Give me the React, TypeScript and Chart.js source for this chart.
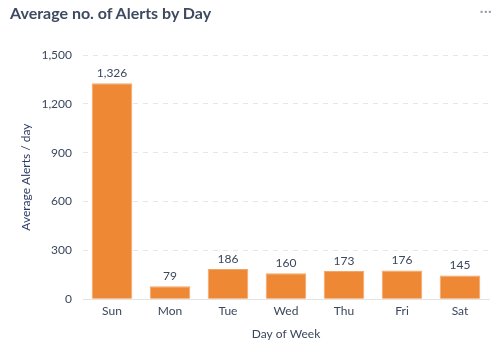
import React, { useEffect, useRef } from "react";
import { Chart, registerables } from "chart.js";

Chart.register(...registerables);

const days = ["Sun", "Mon", "Tue", "Wed", "Thu", "Fri", "Sat"];
const avgAlerts = [1326, 79, 186, 160, 173, 176, 145];
const yTicks = [0, 300, 600, 900, 1200, 1500];

const FONT = "Lato, 'Open Sans', sans-serif";
const TEXT = "#3b475d";
const BAR = "#ee8835";

const labelPlugin = {
  id: "barLabels",
  afterDatasetsDraw(chart: any) {
    const ctx = chart.ctx;
    const meta = chart.getDatasetMeta(0);
    ctx.save();
    ctx.font = `12px ${FONT}`;
    ctx.fillStyle = TEXT;
    ctx.textAlign = "center";
    ctx.textBaseline = "bottom";
    meta.data.forEach((el: any, i: number) => {
      const v = chart.data.datasets[0].data[i] as number;
      ctx.fillText(v.toLocaleString("en-US"), el.x, el.y - 4);
    });
    ctx.restore();
  },
};

export default function App() {
  const ref = useRef<HTMLCanvasElement>(null);
  useEffect(() => {
    document.body.style.margin = "0";
    const chart = new Chart(ref.current!, {
      type: "bar",
      data: {
        labels: days,
        datasets: [
          {
            data: avgAlerts,
            backgroundColor: BAR,
            borderColor: "#f2a66a",
            borderWidth: 1,
            barPercentage: 0.7,
            categoryPercentage: 1,
          },
        ],
      },
      options: {
        animation: false,
        responsive: false,
        layout: { padding: { top: 55, left: 19, right: 15, bottom: 1 } },
        plugins: { legend: { display: false }, tooltip: { enabled: false }, title: { display: false } },
        scales: {
          x: {
            grid: { display: false, drawTicks: false },
            border: { display: true, color: "#e3e3e3" },
            ticks: { color: TEXT, font: { family: FONT, size: 12 }, padding: 5 },
            title: {
              display: true,
              text: "Day of Week",
              color: TEXT,
              font: { family: FONT, size: 12 },
              padding: { top: 3, bottom: 0 },
            },
          },
          y: {
            min: 0,
            max: 1500,
            afterBuildTicks(axis: any) {
              axis.ticks = yTicks.map((v) => ({ value: v }));
            },
            afterFit(axis: any) {
              axis.width = 64;
            },
            grid: { color: "#e6e6e6", drawTicks: false },
            border: { display: false, dash: [5, 5] },
            ticks: {
              color: TEXT,
              font: { family: FONT, size: 12 },
              padding: 11,
              callback: (v: any) => Number(v).toLocaleString("en-US"),
            },
            title: {
              display: true,
              text: "Average Alerts / day",
              color: "#2e3b66",
              font: { family: FONT, size: 12 },
              padding: { top: 0, bottom: 0 },
            },
          },
        },
      },
      plugins: [labelPlugin],
    });
    return () => chart.destroy();
  }, []);
  return (
    <div style={{ position: "relative", width: 504, height: 342, background: "#fff" }}>
      <div
        style={{
          position: "absolute",
          left: 10,
          top: 3,
          fontFamily: FONT,
          fontWeight: 700,
          fontSize: 16,
          color: "#3d4a5f",
        }}
      >
        Average no. of Alerts by Day
      </div>
      <div
        style={{
          position: "absolute",
          right: 12,
          top: 0,
          fontFamily: FONT,
          fontSize: 16,
          color: "#9aa0aa",
        }}
      >
        ···
      </div>
      <canvas ref={ref} width={504} height={342} style={{ display: "block" }} />
    </div>
  );
}
